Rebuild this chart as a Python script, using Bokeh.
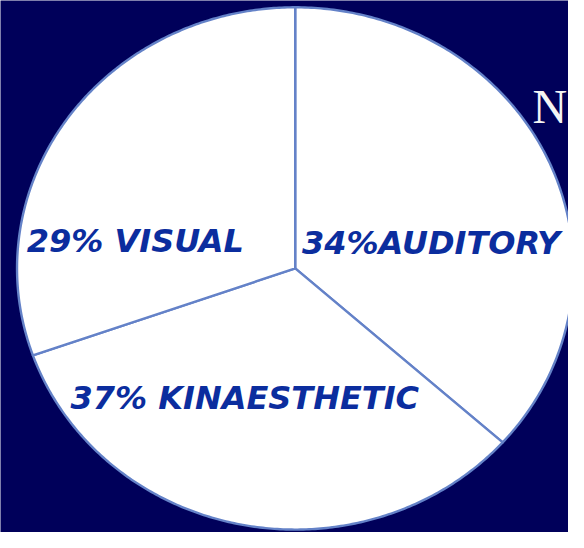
import numpy as np
from bokeh.plotting import figure
from bokeh.models import ColumnDataSource, Range1d
from bokeh.core.properties import value
from bokeh.embed import file_html
from bokeh.resources import INLINE

# ---- data ----
categories = ["AUDITORY", "KINAESTHETIC", "VISUAL"]
label_pcts = [34, 37, 29]              # percentages printed on the slices
slice_share = [36.6, 33.0, 30.4]       # slice sizes as drawn in the picture (%)
label_texts = ["34%AUDITORY", "37% KINAESTHETIC", "29% VISUAL"]
side_text = "N"

# ---- styling / layout ----
BG = "#00005A"
EDGE = "#6482C8"
TXT = "#0B2D9E"
W, H = 568, 532
SX, SY = W / 584.0, H / 548.0
RX, RY = 286.0 * SX, 269.0 * SY        # pixel radii of the (slightly elliptic) pie
CX, CY = 303.0 * SX, 276.0 * SY        # pie centre in figure pixels

p = figure(width=W, height=H, output_backend="svg", toolbar_location=None,
           x_range=Range1d(-CX / RX, (W - CX) / RX),
           y_range=Range1d(-(H - CY) / RY, CY / RY),
           min_border=0, background_fill_color=BG, border_fill_color=BG)
p.axis.visible = False
p.grid.visible = False
p.outline_line_color = None

# build wedges clockwise starting at 12 o'clock
fracs = np.array(slice_share, dtype=float)
fracs = fracs / fracs.sum()
ends = np.pi / 2 - 2 * np.pi * np.cumsum(fracs)
starts = np.concatenate([[np.pi / 2], ends[:-1]])
xs, ys = [], []
for s, e in zip(starts, ends):
    t = np.linspace(s, e, 200)
    xs.append(np.concatenate([[0.0], np.cos(t), [0.0]]))
    ys.append(np.concatenate([[0.0], np.sin(t), [0.0]]))
src = ColumnDataSource(dict(xs=xs, ys=ys, cat=categories, pct=label_pcts))
p.patches("xs", "ys", source=src, fill_color="white", line_color=EDGE,
          line_width=2.4, line_join="round")

# labels (left / baseline anchors, in pie units)
lab_x = [0.0245, -0.808, -0.965]
lab_y = [0.098, -0.497, 0.105]
p.text(x=lab_x, y=lab_y, text=label_texts, text_color=TXT,
       text_font=value("DejaVu Sans"), text_font_style="bold italic",
       text_font_size="32px", text_align="left", text_baseline="alphabetic")

# heading letter at the right
p.text(x=[0.853], y=[0.62], text=[side_text], text_color="#F4F4F4",
       text_font=value("Liberation Serif"), text_font_size="48px",
       text_align="left", text_baseline="alphabetic")

open("out.html", "w").write(file_html(p, INLINE))
